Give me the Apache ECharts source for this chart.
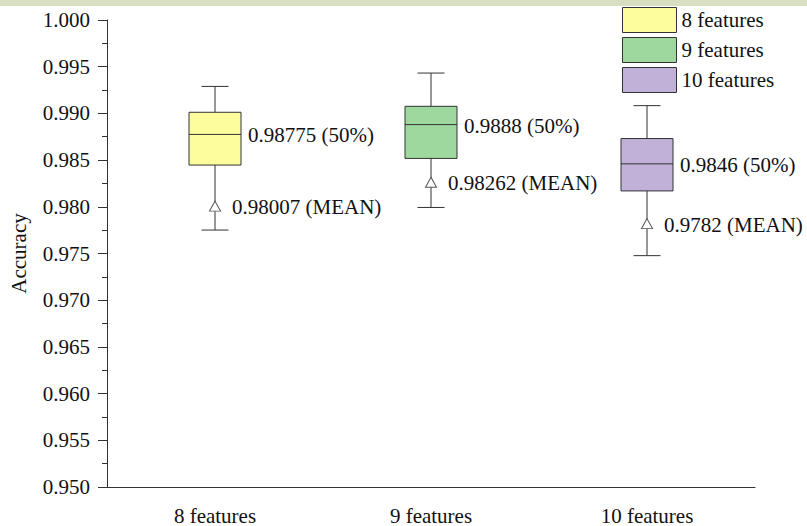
<!DOCTYPE html>
<html>
<head>
<meta charset="utf-8">
<script src="https://cdn.jsdelivr.net/npm/echarts@6/dist/echarts.min.js"></script>
<style>
  html, body { margin: 0; padding: 0; background: #fff; }
  #main { width: 807px; height: 526px; }
</style>
</head>
<body>
<div id="main"></div>
<script>
// categories and box values
var categories = ['8 features', '9 features', '10 features'];
var whiskerLow = [0.97751, 0.97993, 0.97477];
var q1Values = [0.98447, 0.98518, 0.98170];
var medians = [0.98775, 0.98880, 0.98460];
var q3Values = [0.99012, 0.99076, 0.98731];
var whiskerHigh = [0.99289, 0.99432, 0.99083];
var means = [0.98007, 0.98262, 0.97820];
var medianLabels = ['0.98775', '0.9888', '0.9846'];
var meanLabels = ['0.98007', '0.98262', '0.9782'];
var yTicks = { min: 0.95, max: 1.0, step: 0.005 };

var fills = ['#fdfd9e', '#9fd89e', '#c1b1d8'];
var font = "'Liberation Serif', 'Times New Roman', serif";
var fs = 21;
var ink = '#333';

var myChart = echarts.init(document.getElementById('main'), null, { renderer: 'svg' });

function boxRenderer(k) {
  return function (params, api) {
    var x = api.value(0);
    var lo = api.coord([x, api.value(1)]);
    var b1 = api.coord([x, api.value(2)]);
    var md = api.coord([x, api.value(3)]);
    var b3 = api.coord([x, api.value(4)]);
    var hi = api.coord([x, api.value(5)]);
    var cx = lo[0];
    var hw = 26, cw = 13.5;
    var line = { stroke: ink, lineWidth: 1 };
    return {
      type: 'group',
      children: [
        { type: 'line', shape: { x1: cx, y1: b3[1], x2: cx, y2: hi[1] }, style: line },
        { type: 'line', shape: { x1: cx, y1: b1[1], x2: cx, y2: lo[1] }, style: line },
        { type: 'line', shape: { x1: cx - cw, y1: hi[1], x2: cx + cw, y2: hi[1] }, style: line },
        { type: 'line', shape: { x1: cx - cw, y1: lo[1], x2: cx + cw, y2: lo[1] }, style: line },
        { type: 'rect', shape: { x: cx - hw, y: b3[1], width: hw * 2, height: b1[1] - b3[1] },
          style: { fill: fills[k], stroke: ink, lineWidth: 1 } },
        { type: 'line', shape: { x1: cx - hw, y1: md[1], x2: cx + hw, y2: md[1] }, style: line },
        { type: 'text', x: cx + hw + 7, y: md[1] + 1,
          style: { text: medianLabels[k] + ' (50%)', fill: '#111', font: fs + 'px ' + font,
                   verticalAlign: 'middle', align: 'left' } }
      ]
    };
  };
}

var series = categories.map(function (name, k) {
  return {
    name: name,
    type: 'custom',
    itemStyle: { color: fills[k], borderColor: ink, borderWidth: 1 },
    renderItem: boxRenderer(k),
    encode: { x: 0, y: [1, 2, 3, 4, 5] },
    data: [[k, whiskerLow[k], q1Values[k], medians[k], q3Values[k], whiskerHigh[k]]],
    z: 2
  };
});

series.push({
  name: 'mean',
  type: 'scatter',
  symbol: 'triangle',
  symbolSize: [11, 10],
  itemStyle: { color: '#fff', borderColor: '#555', borderWidth: 1, opacity: 1 },
  label: {
    show: true,
    position: 'right',
    distance: 11,
    fontFamily: font,
    fontSize: fs,
    color: '#111',
    offset: [0, 1],
    formatter: function (p) { return meanLabels[p.dataIndex] + ' (MEAN)'; }
  },
  data: means.map(function (v, i) { return [i, v]; }),
  z: 3
});

var option = {
  animation: false,
  backgroundColor: '#fff',
  graphic: [{
    type: 'rect', left: 0, top: 0, silent: true,
    shape: { width: 807, height: 6 },
    style: { fill: '#d8dfc0' }
  }],
  textStyle: { fontFamily: font },
  legend: {
    orient: 'vertical',
    left: 622,
    top: 7,
    padding: 0,
    itemWidth: 54,
    itemHeight: 25,
    itemGap: 4,
    itemStyle: { borderColor: ink, borderWidth: 1 },
    textStyle: { fontFamily: font, fontSize: fs, color: '#111' },
    data: categories.map(function (c, k) {
      return { name: c, icon: 'rect', itemStyle: { color: fills[k], borderColor: ink, borderWidth: 1 } };
    })
  },
  grid: { left: 106, right: 52, top: 20, bottom: 37 },
  xAxis: {
    type: 'category',
    data: categories,
    boundaryGap: true,
    axisLine: { lineStyle: { color: ink, width: 1 } },
    axisTick: { alignWithLabel: true, length: 8, lineStyle: { color: ink } },
    axisLabel: { fontFamily: font, fontSize: fs, color: '#111', margin: 18 },
    splitLine: { show: false }
  },
  yAxis: {
    type: 'value',
    min: yTicks.min,
    max: yTicks.max,
    interval: yTicks.step,
    name: 'Accuracy',
    nameLocation: 'middle',
    nameRotate: 90,
    nameGap: 78,
    nameTextStyle: { fontFamily: font, fontSize: fs, color: '#111' },
    axisLine: { show: true, lineStyle: { color: ink, width: 1 } },
    axisTick: { show: true, length: 9, lineStyle: { color: ink } },
    minorTick: { show: true, splitNumber: 2, length: 5, lineStyle: { color: ink } },
    axisLabel: {
      fontFamily: font, fontSize: fs, color: '#111', margin: 17,
      formatter: function (v) { return v.toFixed(3); }
    },
    splitLine: { show: false },
    minorSplitLine: { show: false }
  },
  series: series
};

myChart.setOption(option);
</script>
</body>
</html>
